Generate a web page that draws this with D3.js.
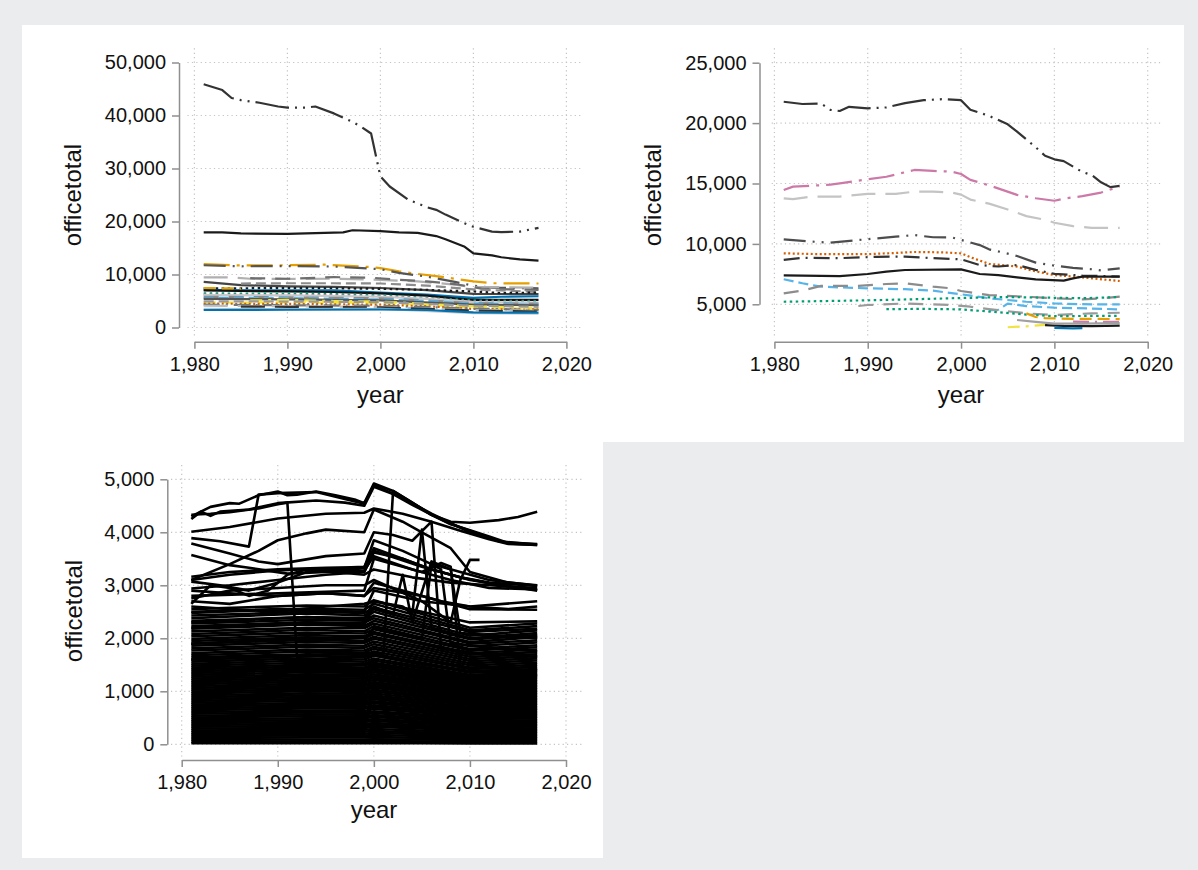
<!DOCTYPE html>
<meta charset="utf-8">
<style>
body { margin: 0; background: #ebecee; }
text { font-family: "Liberation Sans", Arial, sans-serif; fill: #111; }
</style>
<body>
<script src="https://cdnjs.cloudflare.com/ajax/libs/d3/7.8.5/d3.min.js"></script>
<script>

// ---- data ----
var yearTicks = [1980, 1990, 2000, 2010, 2020];
var p1Ticks = [0, 10000, 20000, 30000, 40000, 50000];
var p2Ticks = [5000, 10000, 15000, 20000, 25000];
var p3Ticks = [0, 1000, 2000, 3000, 4000, 5000];

// panel 1 : [year, officetotal]
var p1Series = [
  [[1981,45900],[1983,44800],[1984,43300],[1985,42900],[1987,42400],[1989,41700],[1990,41500],[1992,41500],[1993,41700],[1995,40400],[1997,38800],[1998,37800],[1999,36600],[2000,28500],[2001,26600],[2003,24100],[2005,22700],[2006,22200],[2007,21300],[2009,19700],[2010,19000],[2012,18100],[2013,18000],[2015,18100],[2017,18800]],
  [[1981,17950],[1983,17950],[1985,17750],[1990,17650],[1995,17900],[1996,17950],[1997,18350],[2000,18200],[2002,17950],[2004,17850],[2006,17250],[2007,16650],[2009,15300],[2010,14000],[2012,13600],[2013,13250],[2015,12850],[2017,12600]],
  [[1981,11950],[1985,11700],[1990,11750],[1994,11850],[1999,11400],[2000,11200],[2002,10600],[2004,10100],[2006,9700],[2008,9200],[2010,8700],[2012,8350],[2017,8300]],
  [[1981,11750],[1985,11550],[1990,11600],[1995,11500],[2000,11000],[2002,10300],[2005,9600],[2008,8600],[2010,7900],[2012,7500],[2017,7400]],
  [[1981,9450],[1984,9450],[1986,9200],[1990,9150],[1995,9200],[2000,9000],[2004,8700],[2008,8100],[2010,7600],[2013,7600],[2017,7500]],
  [[1986,9300],[1990,9200],[1995,9500],[1999,9400],[2002,9000],[2005,8700],[2008,8200],[2011,7300],[2017,7100]],
  [[1981,8600],[1985,8000],[1990,7750],[1995,7650],[2000,7450],[2005,7050],[2010,6350],[2017,6300]],
  [[1985,8300],[1990,8350],[1995,8350],[2000,8300],[2005,7900],[2010,7200],[2017,6700]],
  [[1981,7400],[1985,7400],[1990,7450],[1995,7400],[2000,7300],[2005,7100],[2010,6800],[2013,6500],[2017,6600]],
  [[1981,7100],[1985,7000],[1990,7000],[1995,7000],[2000,6600],[2005,6200],[2010,5600],[2013,5800],[2017,5900]],
  [[1981,7000],[1985,6900],[1990,6800],[1995,6700],[2000,6450],[2005,6000],[2008,5500],[2010,5200],[2017,5200]],
  [[1981,6450],[1985,6400],[1990,6350],[1995,6300],[2000,6100],[2005,5600],[2010,5100],[2017,5000]],
  [[1981,6200],[1990,6100],[1995,6050],[2000,5900],[2005,5500],[2010,4900],[2017,4800]],
  [[1981,6100],[1990,6050],[2000,5800],[2005,5400],[2010,4800],[2017,4700]],
  [[1981,5800],[1990,5700],[2000,5500],[2005,5100],[2010,4600],[2017,4500]],
  [[1981,5600],[1990,5550],[2000,5300],[2005,5000],[2010,4500],[2017,4300]],
  [[1981,5400],[1990,5300],[2000,5100],[2010,4300],[2017,4200]],
  [[1981,4800],[1985,4700],[1990,4750],[1995,4700],[2000,4600],[2005,4300],[2010,3800],[2017,3500]],
  [[1981,4500],[1990,4450],[2000,4300],[2005,4000],[2010,3500],[2017,3400]],
  [[1981,4300],[1990,4200],[2000,4100],[2010,3600],[2017,3300]],
  [[1981,4100],[1990,4000],[2000,3900],[2010,3300],[2017,3200]],
  [[1985,3950],[1990,3900],[2000,3800],[2010,3200],[2017,3000]],
  [[1981,3500],[1990,3450],[2000,3500],[2010,2700],[2017,2600]],
  [[1981,3300],[1990,3350],[2000,3400],[2005,3300],[2010,2850],[2017,2800]],
  [[1986,5100],[1990,5200],[1995,5000],[2000,4900],[2010,4000],[2017,3700]],
  [[1981,4950],[1990,4900],[2000,4800],[2010,4100],[2017,3900]],
  [[1981,7450],[1983,7400],[1985,7350]]
];
var p1Colors = ["#333333","#1a1a1a","#e69f00","#555555","#b0b0b0","#6e6e6e","#444444","#8c8c8c","#1a1a1a","#0072b2","#111111","#009e73","#cc79a7","#c8c8c8","#8c8c8c","#56b4e9","#555555","#f0e442","#d55e00","#777777","#bdbdbd","#333333","#c8c8c8","#0072b2","#f0e442","#999999","#e69f00"];
var p1Styles = ["ld3dot","solid","lddot","ld2dot","longdash","mdash","solid","dash","dot","solid","solid","dot","dot","solid","mdash","dash","solid","sdash","fdot","dashdot","longdash","longdash","solid","solid","ydashdot","dash","sdash"];

// panel 2
var p2Series = [
  [[1981,21770],[1983,21580],[1985,21620],[1986,21100],[1987,21000],[1988,21350],[1990,21220],[1992,21300],[1994,21650],[1996,21900],[1998,21980],[2000,21900],[2001,21100],[2002,20850],[2003,20600],[2005,19900],[2006,19300],[2008,18000],[2009,17300],[2010,17000],[2011,16850],[2013,15950],[2014,15700],[2015,15100],[2016,14700],[2017,14800]],
  [[1981,14460],[1982,14740],[1986,14900],[1987,15010],[1990,15350],[1992,15560],[1995,16120],[1997,16040],[1999,15980],[2000,15790],[2001,15300],[2003,14850],[2006,14060],[2008,13780],[2010,13570],[2011,13750],[2013,13950],[2015,14250],[2016,14500],[2017,14740]],
  [[1981,13770],[1982,13700],[1984,13920],[1987,13920],[1990,14140],[1993,14140],[1995,14330],[1997,14330],[1999,14250],[2000,14080],[2001,13670],[2003,13330],[2005,12850],[2007,12300],[2009,12000],[2010,11750],[2012,11470],[2014,11320],[2017,11320]],
  [[1981,10380],[1984,10190],[1986,10100],[1989,10320],[1993,10600],[1995,10730],[1997,10550],[1999,10540],[2000,10330],[2002,9900],[2003,9550],[2005,9200],[2006,9000],[2008,8450],[2010,8200],[2012,8020],[2014,7900],[2015,7800],[2017,7980]],
  [[1981,9220],[1985,9150],[1990,9150],[1993,9250],[1995,9330],[1998,9300],[2000,9220],[2001,8900],[2003,8350],[2006,8120],[2008,7720],[2010,7420],[2012,7300],[2014,7150],[2017,6930]],
  [[1981,8670],[1983,8850],[1987,8820],[1991,8930],[1994,8950],[1997,8820],[2000,8730],[2002,8250],[2004,8130],[2006,8250],[2008,7850],[2010,7520],[2013,7380],[2017,7300]],
  [[1981,7400],[1987,7340],[1990,7510],[1992,7700],[1994,7840],[2000,7890],[2002,7510],[2004,7420],[2006,7230],[2008,7070],[2011,6960],[2012,7150],[2013,7290],[2017,7290]],
  [[1981,7070],[1983,6740],[1985,6460],[1987,6400],[1990,6320],[1994,6250],[1997,6130],[1999,5920],[2000,5830],[2003,5500],[2007,5210],[2010,5070],[2014,4990],[2017,5000]],
  [[2003,4500],[2004,4550],[2005,5050],[2007,4850],[2010,4720],[2014,4650],[2017,4580]],
  [[1981,5910],[1983,6130],[1985,6520],[1989,6520],[1992,6680],[1994,6740],[1997,6460],[1999,6320],[2000,6100],[2003,5760],[2007,5630],[2010,5490],[2013,5410],[2015,5490],[2017,5630]],
  [[1981,5210],[1990,5330],[1995,5420],[2000,5520],[2005,5600],[2010,5540],[2013,5500],[2017,5600]],
  [[1989,4860],[1990,4940],[1994,5070],[1997,4990],[1999,4940],[2001,4800],[2003,4600],[2007,4250],[2010,4110],[2014,4250],[2017,4300]],
  [[1992,4600],[1996,4620],[2000,4580],[2003,4400],[2007,4150],[2010,4020],[2017,4050]],
  [[2007,4250],[2008,3950],[2009,3850],[2012,3800],[2017,3780]],
  [[2012,3560],[2017,3540]],
  [[2005,3100],[2007,3180],[2009,3290]],
  [[2009,3280],[2011,3220],[2014,3200],[2017,3230]],
  [[2010,3050],[2012,3000],[2013,3030]],
  [[2006,3700],[2008,3550],[2010,3400],[2013,3400],[2017,3450]]
];
var p2Colors = ["#333333","#cc79a7","#c4c4c4","#4d4d4d","#d55e00","#333333","#1a1a1a","#56b4e9","#56b4e9","#8c8c8c","#009e73","#9a9a9a","#009e73","#e69f00","#cc79a7","#f0e442","#1a1a1a","#0072b2","#a0a0a0"];
var p2Styles = ["ld3dot","lddot","longdash","ld2dot","fdot","dashdot","solid","dash","dash","mdash","dot","mdash","dot","sdash","dashdot","ydashdot","solid","solid","solid"];

// panel 3 : distinct upper lines
var p3Upper = [
  [[1981,4300],[1983,4480],[1985,4550],[1986,4540],[1988,4700],[1990,4770],[1991,4700],[1992,4710],[1994,4770],[1996,4700],[1998,4620],[1999,4550],[2000,4920],[2002,4780],[2004,4560],[2006,4330],[2008,4150],[2010,4040],[2012,3920],[2014,3800],[2017,3780]],
  [[1981,4250],[1982,4390],[1983,4310],[1984,4390],[1987,4430],[1990,4550],[1994,4600],[1997,4560],[1999,4500],[2000,4860],[2002,4720],[2004,4520],[2006,4330],[2008,4200],[2010,4180],[2013,4230],[2015,4290],[2017,4390]],
  [[1981,4330],[1983,4350],[1985,4380],[1988,4450],[1990,4530],[1991,4560],[1992,1650],[1996,1700],[2000,1680],[2005,1500],[2010,1380],[2017,1300]],
  [[1981,3890],[1984,3830],[1987,3730],[1988,4710],[1990,4740],[1994,4760],[1999,4540],[2000,4890],[2003,4650],[2006,4350],[2010,4000],[2014,3790],[2017,3760]],
  [[1981,4010],[1985,4100],[1990,4260],[1995,4350],[1999,4370],[2000,4450],[2003,4350],[2006,4200],[2009,4030],[2012,3870],[2014,3780],[2017,3760]],
  [[1981,3790],[1985,3600],[1988,3450],[1990,3400],[1995,3550],[1999,3600],[2000,4000],[2002,3950],[2004,3840],[2006,4200],[2007,1800],[2012,1700],[2017,1650]],
  [[1981,3100],[1985,3400],[1988,3650],[1990,3850],[1993,3980],[1995,4050],[1999,4000],[2000,4430],[2003,4200],[2005,4000],[2008,3700],[2010,3250],[2014,3050],[2017,3000]],
  [[1981,3570],[1985,3380],[1987,3330],[1991,3220],[1995,3250],[1999,3250],[2000,3620],[2003,3500],[2006,3300],[2009,3150],[2012,3050],[2017,2990]],
  [[1981,3160],[1985,3250],[1990,3300],[1995,3330],[1999,3330],[2000,3850],[2003,3650],[2006,3400],[2009,3250],[2012,3100],[2017,2990]],
  [[1981,3100],[1985,3200],[1990,3280],[1995,3320],[1999,3350],[2000,3700],[2003,3500],[2006,3300],[2009,3150],[2013,3000],[2017,2910]],
  [[1981,3070],[1984,3000],[1987,2900],[1990,3050],[1993,3250],[1996,3300],[1999,3280],[2000,3550],[2004,3300],[2008,3100],[2012,2950],[2017,2920]],
  [[1981,2940],[1985,3000],[1990,3100],[1995,3200],[1999,3250],[2000,3650],[2005,3350],[2010,3100],[2017,2900]],
  [[1981,2750],[1985,2900],[1990,2950],[1995,3000],[1999,3000],[2000,3100],[2005,2700],[2010,2600],[2017,2700]],
  [[1981,2700],[1985,2650],[1990,2800],[1995,2850],[1999,2800],[2000,3050],[2003,2900],[2007,2700],[2010,2600],[2014,2550],[2017,2600]],
  [[1981,2650],[1983,3000],[1985,2950],[1987,2800],[1989,2900],[1991,3200],[1993,3300],[1996,3250],[1999,3200],[2000,3300],[2004,3150],[2008,3050],[2012,3000],[2017,2950]],
  [[1981,2900],[1985,2850],[1990,2800],[1995,2850],[1999,2800],[2000,2950],[2005,2800],[2010,2550],[2017,2540]],
  [[1981,2600],[1985,2550],[1990,2500],[1995,2600],[1999,2650],[2000,2700],[2005,2500],[2010,2300],[2017,2320]],
  [[1981,1600],[1990,1650],[1995,1700],[2000,1720],[2001,1680],[2002,4780],[2004,4560],[2006,4330],[2008,4160],[2010,4030],[2013,3830],[2017,3770]],
  [[1981,2300],[1993,2400],[1999,2350],[2000,2700],[2003,2600],[2004,2450],[2005,4050],[2006,2200],[2010,2000],[2017,2050]],
  [[1981,2200],[1993,2300],[1999,2250],[2000,2600],[2002,2450],[2003,3200],[2004,2300],[2006,3450],[2008,3300],[2009,2100],[2017,2000]],
  [[1981,1900],[1993,2000],[1999,1950],[2000,2200],[2005,2000],[2006,3400],[2007,3300],[2008,1900],[2017,1750]],
  [[1981,2500],[1990,2550],[1999,2500],[2000,2900],[2005,2700],[2008,2300],[2009,3100],[2010,3480],[2011,3480]],
  [[1981,2800],[1990,2850],[1999,2900],[2000,3500],[2005,3250],[2007,3420],[2008,3350],[2009,1450],[2017,1400]]
];

// panel 3 : the dense mass, values at these years
var p3DenseYears = [1981, 1993, 1999, 2000, 2010, 2017];
var p3Dense = [
  [2550,2620,2600,2720,2200,2280],[2480,2560,2540,2650,2150,2230],[2430,2500,2480,2580,2120,2180],
  [2380,2470,2430,2550,2050,2150],[2330,2400,2380,2500,2000,2100],[2280,2350,2330,2430,1980,2060],
  [2230,2300,2290,2380,1930,2020],[2180,2260,2230,2330,1900,1960],[2130,2200,2190,2280,1850,1920],
  [2080,2160,2130,2230,1800,1870],[2040,2110,2090,2170,1770,1830],[1990,2060,2040,2120,1720,1790],
  [1950,2020,2000,2080,1690,1740],[1900,1970,1950,2030,1650,1700],[1860,1930,1910,1990,1610,1660],
  [1810,1880,1860,1940,1570,1620],[1770,1840,1820,1890,1530,1580],[1720,1790,1770,1840,1490,1540],
  [1680,1750,1730,1800,1450,1500],[1640,1700,1690,1750,1420,1460],[1600,1660,1640,1710,1380,1420],
  [1560,1620,1600,1670,1350,1380],[1520,1580,1560,1620,1310,1350],[1485,1540,1520,1580,1280,1310],
  [1450,1500,1490,1540,1250,1280],[1415,1465,1450,1505,1220,1250],[1380,1430,1415,1470,1190,1220],
  [1345,1395,1380,1430,1160,1190],[1310,1360,1345,1395,1130,1160],[1275,1320,1310,1360,1100,1130],
  [1240,1285,1275,1320,1070,1100],[1205,1250,1240,1285,1040,1070],[1170,1215,1205,1250,1010,1040],
  [1135,1180,1170,1215,980,1005],[1100,1140,1135,1175,950,975],[1065,1105,1100,1140,920,945],
  [1030,1070,1060,1105,890,915],[995,1035,1025,1070,860,885],[960,1000,990,1030,830,855],
  [925,960,955,995,800,825],[890,925,920,960,770,795],[855,890,885,920,740,765],
  [820,855,850,885,710,735],[785,820,810,850,680,700],[750,780,775,810,650,670],
  [715,745,740,775,620,640],[680,710,705,735,590,610],[645,675,670,700,560,580],
  [610,635,630,665,530,550],[575,600,595,625,500,520],[540,565,560,590,470,490],
  [505,530,525,550,440,455],[470,490,490,515,410,425],[435,455,455,475,380,395],
  [400,420,420,440,350,365],[365,385,380,400,320,335],[330,345,345,365,290,300],
  [295,310,310,330,260,270],[260,275,275,290,230,240],[225,240,240,250,200,210],
  [190,200,200,215,170,175],[155,165,165,175,140,145],[120,130,130,135,110,115],
  [85,90,90,95,80,80],[50,55,55,60,45,45],[20,20,20,25,15,15]
];

// ---- drawing ----
var DASH = {
  solid: null, ld3dot: "34,6,2,6,2,6", ld2dot: "22,7,2,7,2,7", lddot: "26,7,3,7",
  longdash: "24,10", dash: "10,5", mdash: "15,10", dot: "2.5,3.5", fdot: "2,2.5",
  dashdot: "16,6,2,6", sdash: "12,6", ydashdot: "12,6,3,6"
};

var W = 1198, H = 870;
var svg = d3.select("body").append("svg").attr("width", W).attr("height", H);
svg.append("rect").attr("width", W).attr("height", H).attr("fill", "#ebecee");
svg.append("rect").attr("x", 22).attr("y", 25).attr("width", 1162).attr("height", 417).attr("fill", "#fff");
svg.append("rect").attr("x", 22).attr("y", 441).attr("width", 581).attr("height", 417).attr("fill", "#fff");

var fmt = d3.format(",");

function drawPanel(p, ticks, lines, colors, styles) {
  var x = d3.scaleLinear().domain([1980, 2020]).range(p.xr);
  var y = d3.scaleLinear().domain([ticks[0], ticks[ticks.length - 1]]).range(p.yr);
  var g = svg.append("g");

  // dotted grid
  g.selectAll(".gx").data(yearTicks).enter().append("line")
    .attr("x1", d => x(d)).attr("x2", d => x(d))
    .attr("y1", p.gridY[0]).attr("y2", p.gridY[1])
    .attr("stroke", "#c4c4c4").attr("stroke-width", 1.2).attr("stroke-dasharray", "1.2,3.2");
  g.selectAll(".gy").data(ticks).enter().append("line")
    .attr("x1", p.gridX[0]).attr("x2", p.gridX[1])
    .attr("y1", d => y(d)).attr("y2", d => y(d))
    .attr("stroke", "#c4c4c4").attr("stroke-width", 1.2).attr("stroke-dasharray", "1.2,3.2");

  // axes
  var ya = g.append("g").attr("transform", "translate(" + p.yAxisX + ",0)")
    .call(d3.axisLeft(y).tickValues(ticks).tickFormat(fmt).tickSize(7).tickSizeOuter(0).tickPadding(6));
  var xa = g.append("g").attr("transform", "translate(0," + p.xAxisY + ")")
    .call(d3.axisBottom(x).tickValues(yearTicks).tickFormat(fmt).tickSize(7).tickSizeOuter(0).tickPadding(8));
  [ya, xa].forEach(function(a) {
    a.attr("font-size", 20).attr("font-family", "Liberation Sans, Arial, sans-serif");
    a.select(".domain").attr("stroke", "#8f8f8f").attr("stroke-width", 1.5);
    a.selectAll(".tick line").attr("stroke", "#8f8f8f").attr("stroke-width", 1.5);
    a.selectAll(".tick text").attr("fill", "#111");
  });

  // lines
  var line = d3.line().x(d => x(d[0])).y(d => y(d[1]));
  g.selectAll(".ln").data(lines).enter().append("path")
    .attr("d", line)
    .attr("fill", "none")
    .attr("stroke", (d, i) => colors ? colors[i] : "#000")
    .attr("stroke-width", p.lw)
    .attr("stroke-linejoin", "round")
    .attr("stroke-dasharray", (d, i) => styles ? DASH[styles[i]] : null);

  // titles
  g.append("text").attr("transform", "translate(" + p.titleX + "," + p.titleY + ") rotate(-90)")
    .attr("text-anchor", "middle").attr("font-size", 24).text("officetotal");
  g.append("text").attr("x", p.yearX).attr("y", p.yearY)
    .attr("text-anchor", "middle").attr("font-size", 24).text("year");
}

drawPanel({xr: [194.4, 566.4], yr: [327.5, 62.5], yAxisX: 179, xAxisY: 341.7, lw: 2.2,
  gridX: [187.5, 581.7], gridY: [48.3, 336.7], titleX: 81, titleY: 195, yearX: 380.4, yearY: 403},
  p1Ticks, p1Series, p1Colors, p1Styles);

drawPanel({xr: [774.4, 1147.7], yr: [304.3, 62.7], yAxisX: 759.5, xAxisY: 341.7, lw: 2.2,
  gridX: [771.7, 1161], gridY: [48.3, 336.7], titleX: 661, titleY: 195, yearX: 961, yearY: 403},
  p2Ticks, p2Series, p2Colors, p2Styles);

var p3Lines = p3Dense.map(vals => vals.map((v, i) => [p3DenseYears[i], v])).concat(p3Upper);
drawPanel({xr: [181.7, 566], yr: [744.3, 479.3], yAxisX: 167.3, xAxisY: 760, lw: 2.6,
  gridX: [171, 584], gridY: [465, 756.7], titleX: 82, titleY: 611, yearX: 374, yearY: 818},
  p3Ticks, p3Lines, null, null);

</script>
</body>
